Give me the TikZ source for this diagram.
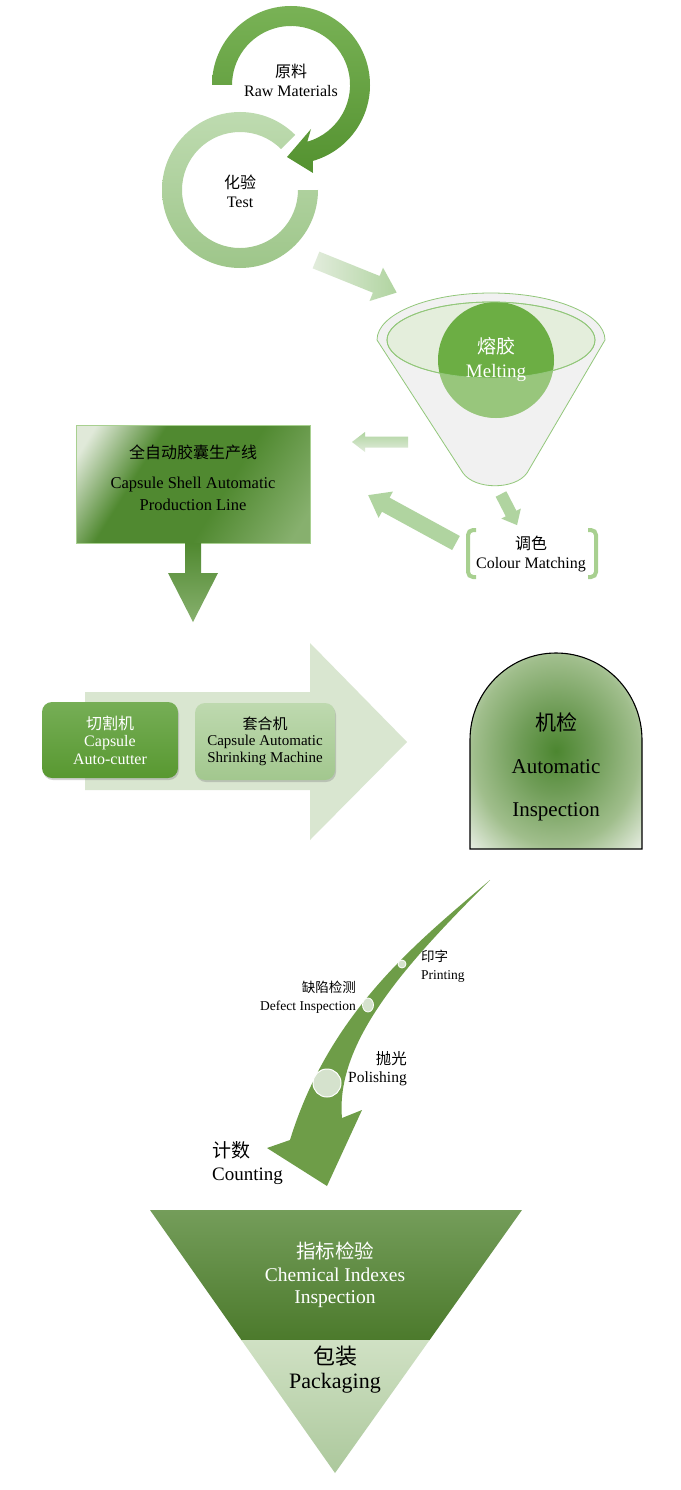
\documentclass[tikz,border=0pt]{standalone}
\usepackage{fontspec}
\setmainfont{Liberation Serif}
\newfontfamily\cjkf{Noto Sans CJK SC}
\usetikzlibrary{shadows}
\newcommand\zhs[1]{{\cjkf #1}}
\newcommand\fsz[2]{\fontsize{#1}{#2}\selectfont}
\definecolor{dkA}{RGB}{121,178,86}
\definecolor{dkB}{RGB}{84,146,48}
\definecolor{ltA}{RGB}{190,219,176}
\definecolor{ltB}{RGB}{158,198,138}
\definecolor{parr}{RGB}{176,212,160}
\definecolor{parrW}{RGB}{226,236,220}
\definecolor{fgray}{RGB}{241,241,241}
\definecolor{fgreen}{RGB}{146,199,122}
\definecolor{iell}{RGB}{228,238,220}
\definecolor{meltg}{RGB}{108,174,68}
\definecolor{brk}{RGB}{168,208,144}
\definecolor{rlight}{RGB}{224,233,217}
\definecolor{rdark}{RGB}{80,137,48}
\definecolor{rmid}{RGB}{135,176,110}
\definecolor{bigarr}{RGB}{217,230,208}
\definecolor{cutA}{RGB}{118,174,86}
\definecolor{cutB}{RGB}{88,152,48}
\definecolor{shrA}{RGB}{190,217,175}
\definecolor{shrB}{RGB}{162,199,142}
\definecolor{archC}{RGB}{76,134,48}
\definecolor{archQ}{RGB}{112,157,88}
\definecolor{archM}{RGB}{160,190,140}
\definecolor{archO}{RGB}{230,237,225}
\definecolor{curv}{RGB}{110,157,72}
\definecolor{dotc}{RGB}{213,226,205}
\definecolor{triA}{RGB}{116,157,90}
\definecolor{triB}{RGB}{76,122,44}
\definecolor{pkA}{RGB}{208,225,196}
\definecolor{pkB}{RGB}{172,200,156}
\pgfdeclareradialshading{archshade}{\pgfpoint{0bp}{0bp}}{color(0bp)=(archC); color(11bp)=(archQ); color(24bp)=(archM); color(35bp)=(archO); color(50bp)=(archO)}
\pgfdeclarehorizontalshading{rectshade}{100bp}{color(0bp)=(rlight); color(20bp)=(rlight); color(36bp)=(rdark); color(58bp)=(rdark); color(80bp)=(rmid); color(100bp)=(rmid)}
\begin{document}
\begin{tikzpicture}[x=1pt,y=-1pt,
  lbl/.style={inner sep=0pt, align=center, text=black},
  wlbl/.style={inner sep=0pt, align=center, text=white}]
\useasboundingbox (0,0) rectangle (680,1490);
\fill[white] (0,0) rectangle (680,1490);

% ---------- top circular arrows ----------
\shade[top color=ltA, bottom color=ltB]
  (318,190) arc[start angle=0, end angle=315, radius=78]
  -- (281,149) arc[start angle=315, end angle=0, radius=58] -- cycle;
\shade[top color=dkA, bottom color=dkB]
  (212,85) arc[start angle=-180, end angle=74, radius=79]
  -- (313,173) -- (287,157) -- (311,129) -- (307.3,141.7)
  arc[start angle=74, end angle=-180, radius=59] -- cycle;
\node[lbl, font=\fsz{16}{19}] (raw) at (291,80) {\zhs{原料}\\Raw Materials};
\node[lbl, font=\fsz{16}{19}] (test) at (240,191) {\zhs{化验}\\Test};

% arrow test -> melting
\begin{scope}[shift={(316,260)}, rotate=-22]
\shade[left color=parrW, right color=parr]
  (0,-9) -- (65,-9) -- (65,-18) -- (87,0) -- (65,18) -- (65,9) -- (0,9) -- cycle;
\end{scope}

% ---------- funnel ----------
\filldraw[fill=fgray, draw=fgreen, line width=0.8]
  (377,340) arc[start angle=180, end angle=360, x radius=114, y radius=47]
  -- (527,473) .. controls (515,490) and (475,490) .. (463,473) -- cycle;
\filldraw[fill=iell, draw=fgreen, line width=0.8] (491,340) ellipse[x radius=104, y radius=38];
\fill[meltg] (496,360) circle[radius=58];
\begin{scope}
\clip (496,360) circle[radius=58];
\fill[white, opacity=0.3, even odd rule] (430,290) rectangle (560,430) (491,340) ellipse[x radius=104, y radius=38];
\end{scope}
\draw[fgreen, line width=0.8] (491,340) ellipse[x radius=104, y radius=38];
\node[wlbl, font=\fsz{19}{24}] (melt) at (496,360) {\zhs{熔胶}\\Melting};

% small arrows around funnel
\begin{scope}[shift={(408,442)}, rotate=180]
\shade[left color=parrW, right color=parr, shading angle=180]
  (0,-5.5) -- (43,-5.5) -- (43,-10) -- (56,0) -- (43,10) -- (43,5.5) -- (0,5.5) -- cycle;
\end{scope}
\begin{scope}[shift={(456,543)}, rotate=-208.6]
\fill[parr]
  (0,-8) -- (80,-8) -- (80,-15) -- (100,0) -- (80,15) -- (80,8) -- (0,8) -- cycle;
\end{scope}
\begin{scope}[shift={(501,494)}, rotate=-62.7]
\fill[parr]
  (0,-6) -- (22,-6) -- (22,-11) -- (35,0) -- (22,11) -- (22,6) -- (0,6) -- cycle;
\end{scope}

% colour matching brackets
\draw[brk, line width=4, rounded corners=5] (476,530) -- (468,530) -- (468,577) -- (476,577);
\draw[brk, line width=4, rounded corners=5] (588,530) -- (596,530) -- (596,577) -- (588,577);
\node[lbl, font=\fsz{16}{19}] (colour) at (531,554) {\zhs{调色}\\Colour Matching};

% ---------- production line box ----------
\shade[shading=rectshade, shading angle=-32, draw=brk, line width=0.8]
  (76,425) rectangle (310,543);
\node[lbl, font=\fsz{16}{19}] (linecn) at (193,452) {\zhs{全自动胶囊生产线}};
\node[lbl, font=\fsz{16.5}{22}] (lineen) at (193,494) {Capsule Shell Automatic\\Production Line};
\shade[top color=rdark, bottom color=rmid]
  (185,543) -- (201,543) -- (201,573) -- (218,573) -- (193,622) -- (168,573) -- (185,573) -- cycle;

% ---------- big block arrow ----------
\fill[bigarr] (85,692) -- (310,692) -- (310,643) -- (407,742) -- (310,840) -- (310,790) -- (85,790) -- cycle;
\shade[top color=cutA, bottom color=cutB, rounded corners=10,
  drop shadow={opacity=0.35, shadow xshift=1pt, shadow yshift=-2pt}]
  (42,702) rectangle (178,778);
\node[wlbl, font=\fsz{16}{17.5}] (cutter) at (110,740) {\zhs{切割机}\\Capsule\\Auto-cutter};
\shade[top color=shrA, bottom color=shrB, rounded corners=10,
  drop shadow={opacity=0.35, shadow xshift=1pt, shadow yshift=-2pt}]
  (195,703) rectangle (335,780);
\node[lbl, font=\fsz{15}{16.5}] (shrink) at (265,741) {\zhs{套合机}\\Capsule Automatic\\Shrinking Machine};

% ---------- automatic inspection arch ----------
\shade[shading=archshade, draw=black, line width=1.1]
  (470,849) -- (470,740) arc[start angle=180, end angle=360, x radius=86, y radius=87] -- (642,849) -- cycle;
\node[lbl, font=\fsz{21}{43}] (autoinsp) at (556,767) {\zhs{机检}\\Automatic\\Inspection};

% ---------- curved arrow ----------
\fill[curv] (490,880) .. controls (420,940) and (330,1010) .. (290,1140)
  -- (267,1148) -- (327,1186) -- (362,1110) -- (342,1118)
  .. controls (335,1040) and (410,960) .. (490,880) -- cycle;
\filldraw[fill=dotc, draw=white, line width=0.8] (402,964) circle[radius=4];
\filldraw[fill=dotc, draw=white, line width=0.8] (368,1005) ellipse[x radius=5.5, y radius=7];
\filldraw[fill=dotc, draw=white, line width=1] (327,1083) circle[radius=14];
\node[lbl, anchor=west, align=left, font=\fsz{13.5}{18}] (print) at (421,966) {\zhs{印字}\\Printing};
\node[lbl, anchor=east, align=right, font=\fsz{13.5}{18}] (defect) at (356,997) {\zhs{缺陷检测}\\Defect Inspection};
\node[lbl, anchor=east, align=right, font=\fsz{15.5}{18}] (polish) at (407,1069) {\zhs{抛光}\\Polishing};
\node[lbl, anchor=west, align=left, font=\fsz{19}{23}] (count) at (212,1163) {\zhs{计数}\\Counting};

% ---------- inverted triangle ----------
\shade[top color=triA, bottom color=triB] (150,1210) -- (522,1210) -- (429.6,1340) -- (241.4,1340) -- cycle;
\shade[top color=pkA, bottom color=pkB] (241.4,1340) -- (429.6,1340) -- (335,1473) -- cycle;
\node[wlbl, font=\fsz{19.5}{22.5}] (chem) at (335,1275) {\zhs{指标检验}\\Chemical Indexes\\Inspection};
\node[lbl, font=\fsz{22}{24}] (pack) at (335,1370) {\zhs{包装}\\Packaging};
\end{tikzpicture}
\end{document}
